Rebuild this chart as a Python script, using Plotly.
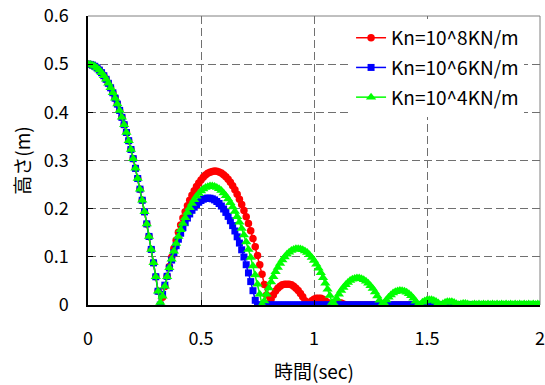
import plotly.graph_objects as go

# time sampling (sec)
t_start = 0.0
t_step = 0.01

# common free-fall part, t = 0.00 .. 0.31
drop = [0.5, 0.4995, 0.498, 0.4956, 0.4922, 0.4877, 0.4823, 0.476, 0.4686, 0.4603,
        0.451, 0.4407, 0.4294, 0.4171, 0.4039, 0.3896, 0.3744, 0.3582, 0.3411, 0.3229,
        0.3038, 0.2837, 0.2626, 0.2405, 0.2175, 0.1934, 0.1684, 0.1424, 0.1154, 0.0875,
        0.0586, 0.0286]

# Kn = 10^8 KN/m (red), t = 0.32 .. 2.00
red_rest = [0.0,
    0.0163, 0.0384, 0.0596, 0.0798, 0.0991, 0.1173, 0.1346, 0.1509, 0.1662, 0.1805,
    0.1938, 0.2062, 0.2176, 0.2280, 0.2374, 0.2458, 0.2533, 0.2597, 0.2652, 0.2698,
    0.2733, 0.2758, 0.2774, 0.2780, 0.2776, 0.2762, 0.2739, 0.2705, 0.2662, 0.2609,
    0.2546, 0.2474, 0.2391, 0.2299, 0.2197, 0.2085, 0.1964, 0.1832, 0.1691, 0.1540,
    0.1379, 0.1208, 0.1028, 0.0838, 0.0637, 0.0427, 0.0208,
    0.0,
    0.012, 0.021, 0.029, 0.035, 0.039, 0.042, 0.043, 0.043, 0.043, 0.042,
    0.039, 0.035, 0.030, 0.024, 0.017, 0.009, 0.001,
    0.005, 0.009, 0.012, 0.014, 0.014, 0.014, 0.012, 0.009, 0.005, 0.001,
    0.002, 0.004, 0.005, 0.005, 0.004, 0.002, 0.0,
    0, 0, 0, 0, 0, 0, 0, 0, 0, 0, 0, 0, 0, 0, 0, 0, 0, 0, 0, 0,
    0, 0, 0, 0, 0, 0, 0, 0, 0, 0, 0, 0, 0, 0, 0, 0, 0, 0, 0, 0,
    0, 0, 0, 0, 0, 0, 0, 0, 0, 0, 0, 0, 0, 0, 0, 0, 0, 0, 0, 0,
    0, 0, 0, 0, 0, 0, 0, 0, 0, 0, 0, 0, 0, 0, 0, 0, 0, 0, 0, 0,
    0, 0, 0, 0, 0, 0]

# Kn = 10^6 KN/m (blue), t = 0.32 .. 2.00
blue_rest = [0.0,
    0.0219, 0.0412, 0.0595, 0.0769, 0.0933, 0.1087, 0.1231, 0.1365, 0.1490, 0.1605,
    0.1710, 0.1805, 0.1890, 0.1966, 0.2031, 0.2087, 0.2133, 0.2170, 0.2196, 0.2213,
    0.2220, 0.2217, 0.2204, 0.2182, 0.2149, 0.2107, 0.2055, 0.1993, 0.1922, 0.1840,
    0.1749, 0.1648, 0.1537, 0.1416, 0.1286, 0.1146, 0.0996, 0.0836, 0.0666, 0.0486,
    0.0297, 0.0098,
    0, 0, 0, 0, 0, 0, 0, 0, 0, 0, 0, 0, 0, 0, 0, 0, 0, 0, 0, 0,
    0, 0, 0, 0, 0, 0, 0, 0, 0, 0, 0, 0, 0, 0, 0, 0, 0, 0, 0, 0,
    0, 0, 0, 0, 0, 0, 0, 0, 0, 0, 0, 0, 0, 0, 0, 0, 0, 0, 0, 0,
    0, 0, 0, 0, 0, 0, 0, 0, 0, 0, 0, 0, 0, 0, 0, 0, 0, 0, 0, 0,
    0, 0, 0, 0, 0, 0, 0, 0, 0, 0, 0, 0, 0, 0, 0, 0, 0, 0, 0, 0,
    0, 0, 0, 0, 0, 0, 0, 0, 0, 0, 0, 0, 0, 0, 0, 0, 0, 0, 0, 0,
    0, 0, 0, 0, 0, 0]

# Kn = 10^4 KN/m (green), t = 0.32 .. 2.00
green_rest = [0.005,
    0.0182, 0.0388, 0.0586, 0.0773, 0.0951, 0.1118, 0.1276, 0.1424, 0.1563, 0.1691,
    0.1810, 0.1919, 0.2018, 0.2107, 0.2187, 0.2256, 0.2316, 0.2366, 0.2406, 0.2437,
    0.2457, 0.2468, 0.2469, 0.2460, 0.2442, 0.2413, 0.2375, 0.2327, 0.2269, 0.2201,
    0.2124, 0.2037, 0.1939, 0.1833, 0.1716, 0.1589, 0.1453, 0.1307, 0.1151, 0.0985,
    0.0809, 0.0624, 0.0429, 0.0224, 0.0009,
    0.0081, 0.0222, 0.0354, 0.0475, 0.0587, 0.0689, 0.0781, 0.0864, 0.0936, 0.0999,
    0.1052, 0.1095, 0.1129, 0.1152, 0.1166, 0.1170, 0.1164, 0.1148, 0.1123, 0.1088,
    0.1042, 0.0987, 0.0923, 0.0848, 0.0764, 0.0670, 0.0566, 0.0452, 0.0328, 0.0195,
    0.0052,
    0.002,
    0.0136, 0.0222, 0.0299, 0.0365, 0.0422, 0.0469, 0.0507, 0.0534, 0.0552, 0.0560,
    0.0558, 0.0546, 0.0524, 0.0493, 0.0452, 0.0401, 0.0340, 0.0269, 0.0189, 0.0098,
    0.001,
    0.0039, 0.0105, 0.0162, 0.0209, 0.0247, 0.0274, 0.0292, 0.0300, 0.0298, 0.0286,
    0.0264, 0.0233, 0.0192, 0.0141, 0.0080, 0.0009,
    0.001,
    0.0057, 0.0084, 0.0102, 0.0110, 0.0108, 0.0096, 0.0074, 0.0043, 0.0002,
    0.0026, 0.0050, 0.0065, 0.0070, 0.0065, 0.0050, 0.0026, 0.0003,
    0.002, 0.003, 0.003, 0.002, 0.0005,
    0.001, 0.002, 0.001, 0.002, 0.001, 0.002, 0.001, 0.002, 0.001, 0.002,
    0.001, 0.002, 0.001, 0.002, 0.001, 0.002, 0.001, 0.002, 0.001, 0.002,
    0.001, 0.002, 0.001, 0.002, 0.001, 0.002, 0.001, 0.002, 0.001, 0.002,
    0.001]

red_h = drop + red_rest
blue_h = drop + blue_rest
green_h = drop + green_rest

series_names = ["Kn=10^8KN/m", "Kn=10^6KN/m", "Kn=10^4KN/m"]
x_ticks = [0, 0.5, 1, 1.5, 2]
x_tick_text = ["0", "0.5", "1", "1.5", "2"]
y_ticks = [0, 0.1, 0.2, 0.3, 0.4, 0.5, 0.6]
y_tick_text = ["0", "0.1", "0.2", "0.3", "0.4", "0.5", "0.6"]

JP = "Noto Sans CJK JP"

fig = go.Figure()
styles = [
    (red_h, "#FF0000", "circle", 7.5),
    (blue_h, "#0000FF", "square", 7),
    (green_h, "#00FF00", "triangle-up", 9),
]
for i, (vals, col, sym, sz) in enumerate(styles):
    fig.add_trace(go.Scatter(
        x0=t_start, dx=t_step, y=vals, name=series_names[i],
        mode="lines+markers", legendgroup=f"g{i}",
        line=dict(color=col, width=1.5),
        marker=dict(color=col, symbol=sym, size=sz, line=dict(width=0)),
    ))

grid = dict(showgrid=True, gridcolor="#707070", gridwidth=1, griddash="8px,4px")

fig.update_layout(
    width=545, height=385,
    margin=dict(l=88, r=5, t=16, b=80),
    paper_bgcolor="white", plot_bgcolor="white",
    font=dict(family=JP, size=18, color="black"),
    showlegend=True,
    legend=dict(x=0.582, y=0.99, xanchor="left", yanchor="top",
                bgcolor="white", borderwidth=0,
                font=dict(family=JP, size=19, color="black"),
                itemwidth=30, tracegroupgap=2),
    xaxis=dict(range=[0, 2], tickvals=x_ticks, ticktext=x_tick_text,
               ticks="inside", ticklen=5, tickcolor="black",
               showline=True, linecolor="black", linewidth=1.5,
               zeroline=False, ticklabelstandoff=17, automargin=False,
               tickfont=dict(family=JP, size=18),
               title=dict(text="時間(sec)", font=dict(family=JP, size=19), standoff=16),
               **grid),
    yaxis=dict(range=[0, 0.6], tickvals=y_ticks, ticktext=y_tick_text,
               ticks="inside", ticklen=5, tickcolor="black",
               showline=True, linecolor="black", linewidth=1.5,
               zeroline=False, ticklabelstandoff=14, automargin=False,
               tickfont=dict(family=JP, size=18),
               title=dict(text="高さ(m)", font=dict(family=JP, size=19), standoff=8),
               **grid),
    shapes=[
        dict(type="line", xref="paper", yref="paper", x0=0, x1=1, y0=1, y1=1,
             line=dict(color="#808080", width=1), layer="between"),
        dict(type="line", xref="paper", yref="paper", x0=1, x1=1, y0=0, y1=1,
             line=dict(color="#808080", width=1), layer="between"),
    ],
)

fig.write_html("out.html")
